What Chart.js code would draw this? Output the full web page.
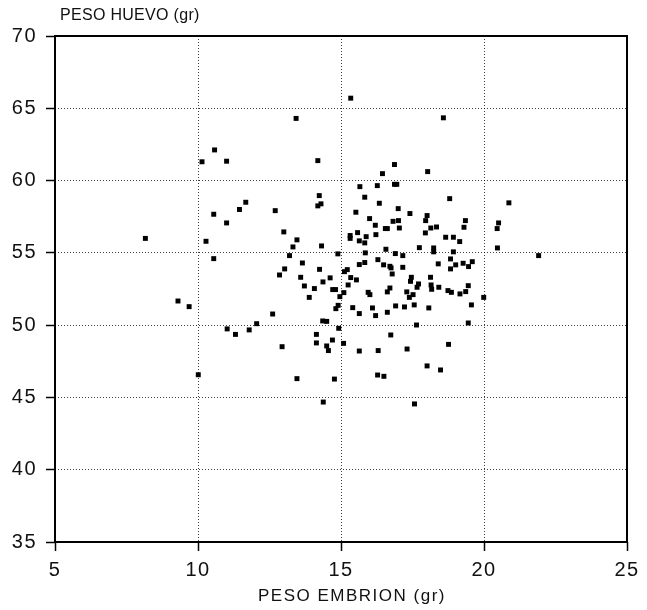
<!DOCTYPE html>
<html>
<head>
<meta charset="utf-8">
<script src="https://cdn.jsdelivr.net/npm/chart.js@4/dist/chart.umd.min.js"></script>
<style>
  html, body { margin: 0; padding: 0; background: #fff; }
  canvas { display: block; }
</style>
</head>
<body>
<canvas id="scatter" width="647" height="610"></canvas>
<script>
// Peso embrion (gr), eje X
const pesoEmbrion = [
    10.58, 10.14, 11.00, 11.67, 11.45, 10.55, 11.00, 8.16, 10.28, 10.55,
    9.30, 9.69, 11.02, 11.31, 11.79, 12.05, 10.01,
    15.34, 13.43, 14.19, 15.66, 16.27, 15.83, 14.24, 14.30, 14.19, 16.34,
    12.70, 15.52, 16.00, 16.20, 13.00, 15.58, 16.22, 15.32, 15.32, 15.88,
    13.46, 15.64, 15.83, 13.32, 14.32, 13.20, 14.89, 15.85, 16.29, 13.65,
    15.83, 15.64, 13.03, 14.25, 15.22,
    12.85, 15.12, 13.59, 14.62, 15.34, 15.54, 14.37, 13.72, 15.25, 14.07,
    14.71, 14.81, 15.10, 13.89, 14.96, 14.90, 14.82, 15.41, 15.64, 12.61,
    15.95, 16.01, 16.10, 16.21, 14.36, 14.50, 14.92, 14.14, 14.14, 14.70,
    15.09, 12.94, 14.50, 14.56, 15.64, 16.30, 16.28, 13.46, 14.77, 14.38,
    18.58, 16.87, 16.45, 18.03, 16.87, 16.95, 18.80, 17.00, 17.41, 18.01,
    16.82, 17.01, 17.96, 19.35, 16.55, 16.62, 17.04, 18.14, 18.34, 19.30,
    17.95, 18.66, 18.93, 19.15, 17.74, 18.24, 18.24, 16.57, 16.90, 17.16,
    18.93, 18.83, 20.87, 20.51, 20.46, 20.47, 21.91,
    16.49, 16.71, 16.75, 17.16, 18.40, 18.83, 19.01, 19.27, 19.46, 19.59,
    16.79, 17.46, 17.43, 18.13, 17.71, 17.66, 18.15, 18.17, 18.42, 19.45,
    16.71, 16.62, 17.30, 18.74, 18.86, 19.36, 19.16, 17.52, 17.39, 19.99,
    17.56, 16.91, 17.22, 18.07, 19.56, 16.62, 19.45, 17.64, 16.74, 18.76,
    17.31, 18.01, 18.48, 16.50, 17.57
];

// Peso huevo (gr), eje Y
const pesoHuevo = [
    62.12, 61.30, 61.34, 58.50, 58.00, 57.67, 57.07, 56.00, 55.80, 54.60,
    51.67, 51.28, 49.74, 49.36, 49.67, 50.10, 46.57,
    65.70, 64.30, 61.38, 59.58, 59.65, 58.85, 58.96, 58.39, 58.25, 58.43,
    57.92, 57.81, 57.37, 56.91, 56.45, 56.40, 56.26, 56.20, 56.00, 56.12,
    55.90, 55.83, 55.69, 55.41, 55.48, 54.81, 54.93, 55.00, 54.53, 54.30,
    54.33, 54.19, 53.89, 53.86, 53.84,
    53.47, 53.70, 53.31, 53.27, 53.29, 53.13, 52.99, 52.71, 52.78, 52.53,
    52.46, 52.46, 52.25, 51.92, 51.97, 51.37, 51.14, 51.21, 50.80, 50.77,
    52.27, 52.11, 51.19, 50.66, 50.29, 50.26, 49.78, 49.36, 48.77, 48.97,
    48.74, 48.51, 48.56, 48.24, 48.21, 48.24, 46.55, 46.30, 46.27, 44.68,
    64.34, 61.11, 60.48, 60.62, 59.74, 59.74, 58.75, 58.06, 57.72, 57.58,
    57.18, 57.23, 57.23, 57.23, 56.68, 56.68, 56.72, 56.72, 56.79, 56.77,
    56.38, 56.08, 56.08, 55.78, 55.36, 55.34, 55.07, 55.25, 54.95, 54.81,
    55.07, 54.58, 58.46, 57.07, 56.68, 55.34, 54.81,
    54.17, 54.07, 53.96, 54.00, 54.24, 53.89, 54.17, 54.28, 54.05, 54.39,
    53.54, 53.31, 53.03, 53.31, 52.85, 52.62, 52.78, 52.48, 52.62, 52.73,
    52.57, 52.30, 52.30, 52.39, 52.27, 52.32, 52.16, 52.11, 51.92, 51.92,
    51.40, 51.33, 51.26, 51.19, 51.40, 50.89, 50.15, 50.01, 49.32, 48.67,
    48.35, 47.18, 46.90, 46.46, 44.55
];

const xTicks = [5, 10, 15, 20, 25];
const yTicks = [35, 40, 45, 50, 55, 60, 65, 70];

const points = pesoEmbrion.map((x, i) => ({ x: x, y: pesoHuevo[i] }));

const fontFamily = "'Liberation Sans', Arial, Helvetica, sans-serif";

// letras algo mas anchas, como en el original
const spacingPlugin = {
    id: "spacing",
    beforeDraw(chart) { chart.ctx.letterSpacing = "1.5px"; },
    afterDraw(chart) { chart.ctx.letterSpacing = "0px"; }
};

// marco negro y rotulos de los ejes
const framePlugin = {
    id: "frame",
    afterDraw(chart) {
        const { ctx, chartArea: a } = chart;
        ctx.save();
        ctx.strokeStyle = "#000";
        ctx.lineWidth = 2;
        ctx.strokeRect(a.left, a.top, a.right - a.left, a.bottom - a.top);
        ctx.fillStyle = "#111";
        ctx.textBaseline = "middle";
        ctx.font = "16px " + fontFamily;
        ctx.letterSpacing = "0.3px";
        ctx.textAlign = "left";
        ctx.fillText("PESO HUEVO (gr)", 60, 16);
        ctx.font = "17px " + fontFamily;
        ctx.letterSpacing = "1.5px";
        ctx.textAlign = "center";
        ctx.fillText("PESO EMBRION (gr)", 352, 596);
        ctx.restore();
    }
};

const gridOpts = {
    color: "rgba(0,0,0,0.75)",
    lineWidth: 1,
    tickLength: 9,
    tickColor: "#000",
    tickWidth: 1.5,
    tickBorderDash: []
};

new Chart(document.getElementById("scatter").getContext("2d"), {
    type: "scatter",
    data: {
        datasets: [{
            label: "Peso huevo vs peso embrion",
            data: points,
            backgroundColor: "#000",
            borderWidth: 0,
            pointStyle: "rect",
            pointRadius: 3.5
        }]
    },
    options: {
        responsive: false,
        animation: false,
        layout: { padding: { top: 36, right: 20, left: 0, bottom: 0 } },
        plugins: {
            legend: { display: false },
            tooltip: { enabled: false }
        },
        scales: {
            x: {
                type: "linear",
                min: xTicks[0],
                max: xTicks[xTicks.length - 1],
                afterBuildTicks: (scale) => { scale.ticks = xTicks.map(v => ({ value: v })); },
                afterFit: (scale) => { scale.height = 68; },
                grid: gridOpts,
                border: { display: false, dash: [1, 2] },
                ticks: {
                    padding: 7,
                    color: "#111",
                    font: { family: fontFamily, size: 20 },
                    maxRotation: 0
                }
            },
            y: {
                type: "linear",
                min: yTicks[0],
                max: yTicks[yTicks.length - 1],
                afterBuildTicks: (scale) => { scale.ticks = yTicks.map(v => ({ value: v })); },
                afterFit: (scale) => { scale.width = 55; },
                grid: gridOpts,
                border: { display: false, dash: [1, 2] },
                ticks: {
                    padding: 9,
                    color: "#111",
                    font: { family: fontFamily, size: 20 }
                }
            }
        }
    },
    plugins: [spacingPlugin, framePlugin]
});
</script>
</body>
</html>
